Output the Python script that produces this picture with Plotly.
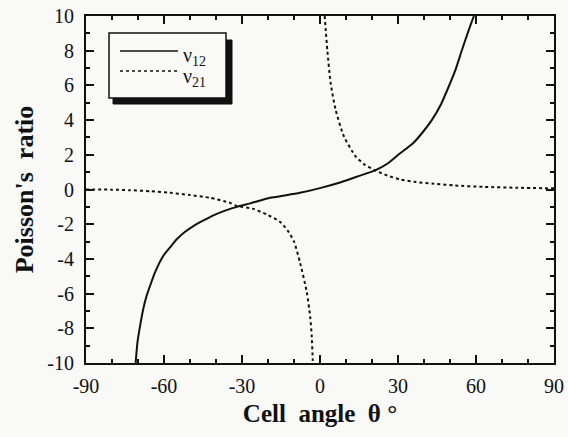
import plotly.graph_objects as go

# ---- data ----
theta_12 = [-70.9, -70.2, -69.2, -68.0, -66.7, -65.0, -63.5, -60.3, -57.5, -55.1, -52.0,
            -48.7, -45.0, -41.0, -36.5, -32.0, -26.9, -19.2, -13.0, -7.7, 0.0, 8.0,
            15.4, 21.2, 26.0, 30.1, 36.0, 39.5, 43.0, 46.5, 49.7, 52.0, 54.5, 57.0, 59.2]
nu_12 = [-10.0, -8.8, -7.86, -6.9, -6.13, -5.4, -4.79, -3.83, -3.3, -2.87, -2.45,
         -2.11, -1.8, -1.49, -1.22, -1.0, -0.8, -0.48, -0.33, -0.19, 0.08, 0.42,
         0.8, 1.1, 1.5, 2.0, 2.7, 3.3, 4.0, 4.9, 6.0, 6.85, 8.0, 9.1, 10.0]

theta_21_left = [-90.0, -80.0, -73.1, -65.0, -57.7, -50.0, -42.3, -34.6, -32.0, -26.0,
                 -20.5, -15.5, -12.5, -10.0, -7.7, -5.1, -3.8, -3.2, -2.8, -2.75]
nu_21_left = [0.0, -0.01, -0.04, -0.1, -0.19, -0.32, -0.48, -0.77, -0.95, -1.1,
              -1.44, -1.85, -2.35, -3.0, -4.2, -5.9, -7.3, -8.4, -9.8, -10.0]
theta_21_right = [1.8, 2.3, 2.8, 4.1, 6.0, 9.2, 13.7, 17.0, 21.2, 26.0, 31.0, 37.0,
                  43.8, 52.0, 63.1, 76.0, 90.0]
nu_21_right = [10.0, 9.0, 8.05, 6.13, 4.6, 3.06, 1.91, 1.45, 1.1, 0.8, 0.57, 0.43,
               0.33, 0.23, 0.15, 0.1, 0.07]

x_ticks = [-90, -60, -30, 0, 30, 60, 90]
y_ticks = [-10, -8, -6, -4, -2, 0, 2, 4, 6, 8, 10]
legend_names = ["ν<sub>12</sub>", "ν<sub>21</sub>"]

FONT = "Liberation Serif, Times New Roman, serif"
BG = "#f9f9f8"
INK = "#111111"

fig = go.Figure()
fig.add_trace(go.Scatter(x=theta_12, y=nu_12, mode="lines", line_shape="spline",
                         line=dict(color=INK, width=2, smoothing=0.6), showlegend=False))
fig.add_trace(go.Scatter(x=theta_21_left + [None] + theta_21_right,
                         y=nu_21_left + [None] + nu_21_right, mode="lines",
                         line_shape="spline", connectgaps=False,
                         line=dict(color=INK, width=2, dash="dot", smoothing=0.6),
                         showlegend=False))

W, H = 568, 437
L, R, T, B = 86, 14, 16, 74
pw, ph = W - L - R, H - T - B


def px(x):
    return (x - L) / pw


def py(y):
    return (H - B - y) / ph


shapes = [
    # legend shadow
    dict(type="rect", xref="paper", yref="paper", x0=px(113), x1=px(232), y0=py(104), y1=py(40),
         fillcolor=INK, line=dict(color=INK, width=1), layer="above"),
    # legend box
    dict(type="rect", xref="paper", yref="paper", x0=px(109), x1=px(226), y0=py(98), y1=py(33),
         fillcolor=BG, line=dict(color=INK, width=1.5), layer="above"),
    dict(type="line", xref="paper", yref="paper", x0=px(120), x1=px(178), y0=py(51), y1=py(51),
         line=dict(color=INK, width=1.5), layer="above"),
    dict(type="line", xref="paper", yref="paper", x0=px(120), x1=px(178), y0=py(71), y1=py(71),
         line=dict(color=INK, width=1.5, dash="dot"), layer="above"),
]
annotations = [
    dict(xref="paper", yref="paper", x=px(181), y=py(56), text=legend_names[0], showarrow=False,
         xanchor="left", yanchor="middle", font=dict(family=FONT, size=20, color=INK)),
    dict(xref="paper", yref="paper", x=px(181), y=py(77), text=legend_names[1], showarrow=False,
         xanchor="left", yanchor="middle", font=dict(family=FONT, size=20, color=INK)),
]

axis_common = dict(showline=True, linewidth=2, linecolor=INK, mirror="allticks",
                   ticks="inside", ticklen=8, tickwidth=1.5, tickcolor=INK,
                   showgrid=False, zeroline=False, ticklabeloverflow="allow",
                   automargin=False,
                   tickfont=dict(family=FONT, size=20, color=INK))

fig.update_xaxes(range=[-90, 90], tickvals=x_ticks, ticktext=[str(v) for v in x_ticks],
                 minor=dict(ticks="inside", ticklen=4, tickwidth=1.5, tickcolor=INK, dtick=10, tick0=0),
                 title=dict(text="<b>Cell  angle  θ °</b>", standoff=8,
                            font=dict(family=FONT, size=25, color=INK)),
                 ticklabelstandoff=4,
                 **axis_common)
fig.update_yaxes(range=[-10, 10], tickvals=y_ticks, ticktext=[str(v) for v in y_ticks],
                 minor=dict(ticks="inside", ticklen=4, tickwidth=1.5, tickcolor=INK, dtick=1, tick0=0),
                 title=dict(text="<b>Poisson's  ratio</b>", standoff=6,
                            font=dict(family=FONT, size=26, color=INK)),
                 ticklabelstandoff=6,
                 **axis_common)

fig.update_layout(width=W, height=H, margin=dict(l=L, r=R, t=T, b=B, autoexpand=False),
                  paper_bgcolor=BG, plot_bgcolor=BG, showlegend=False,
                  shapes=shapes, annotations=annotations)

# remove the browser's default 8px body margin so the figure fills the window exactly
fig.write_html("out.html", config={"displayModeBar": False},
               post_script="document.body.style.margin='0';")
